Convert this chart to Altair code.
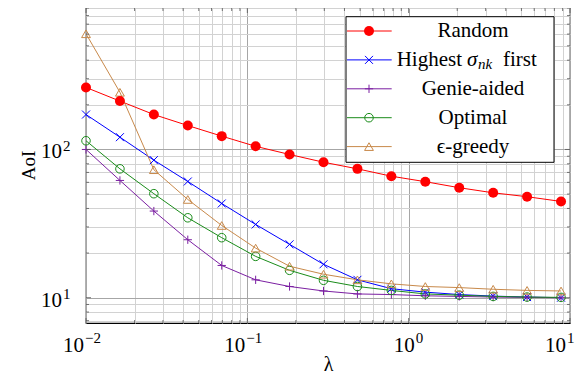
import altair as alt
import pandas as pd

# ---- data ----
lam = [0.01, 0.01623, 0.02634, 0.04275, 0.06938, 0.1126, 0.1827, 0.2966,
       0.4813, 0.7812, 1.268, 2.058, 3.34, 5.42, 8.80]
random_aoi = [262, 212, 172, 145, 123, 105, 92.5, 82, 74, 66, 60.6, 55.2, 51, 48, 44.6]
highest_aoi = [172, 121, 84.7, 60.8, 43.2, 31.2, 22.9, 16.8, 13.2, 11.5, 10.9, 10.5, 10.25, 10.1, 10.0]
genie_aoi = [100, 61.8, 38.4, 24.6, 16.5, 13.2, 11.9, 11.1, 10.6, 10.5, 10.3, 10.2, 10.1, 10.05, 10.0]
optimal_aoi = [114.5, 74, 50.3, 34.6, 25.4, 19.0, 15.3, 13.1, 11.9, 11.2, 10.6, 10.4, 10.2, 10.1, 10.05]
egreedy_aoi = [603, 243, 73, 46, 30.7, 21.6, 16.3, 14.4, 13.2, 12.4, 11.9, 11.7, 11.4, 11.2, 11.1]

names = ["Random", "Highest σₙₖ first", "Genie-aided", "Optimal", "ϵ-greedy"]
colors = ["#ff0000", "#0000ff", "#7b1fa2", "#1a8c1a", "#c8894a"]

x_major = [0.01, 0.1, 1, 10]
x_exps = ["−2", "−1", "0", "1"]
y_major = [10, 100]
y_exps = ["1", "2"]
mult = [2, 3, 4, 5, 6, 7, 8, 9]
x_minor = [round(m * d, 6) for d in [0.01, 0.1, 1] for m in mult]
y_minor = [7, 8, 9] + [round(m * d, 6) for d in [10, 100] for m in mult]

W, H = 484, 315
FONT = "Liberation Serif"

series = [random_aoi, highest_aoi, genie_aoi, optimal_aoi, egreedy_aoi]
rows = []
for n, vals in zip(names, series):
    for l, v in zip(lam, vals):
        rows.append({"series": n, "lam": l, "aoi": v})
df = pd.DataFrame(rows)


def grid_color(vals):
    return {"condition": {"test": f"indexof({vals}, datum.value) >= 0", "value": "#a6a6a6"},
            "value": "#d2d2d2"}


xscale = alt.Scale(type="log", domain=[0.01, 10], nice=False)
yscale = alt.Scale(type="log", domain=[6.75, 900], nice=False)

xaxis = alt.Axis(values=x_major + x_minor, labels=False,
                 grid=True, gridColor=grid_color(x_major), gridWidth=1,
                 ticks=False, tickSize=0, domain=False,
                 title="λ", titleFontSize=20, titleFontWeight="normal", titleFont=FONT,
                 titleBaseline="top", titleY=31, titleColor="black")
yaxis = alt.Axis(values=y_major + y_minor, labels=False,
                 grid=True, gridColor=grid_color(y_major), gridWidth=1,
                 ticks=False, tickSize=0, domain=False,
                 title="AoI", titleFontSize=19, titleFontWeight="normal", titleFont=FONT,
                 titleAngle=270, titleBaseline="alphabetic", titleX=-52, titleY=157,
                 titleColor="black")

color = alt.Color("series:N", scale=alt.Scale(domain=names, range=colors), legend=None)
other = names[1:]
shape_scale = alt.Scale(domain=other, range=["M-1,-1L1,1M-1,1L1,-1", "M-1,0L1,0M0,-1L0,1",
                                             "circle", "triangle-up"])
size_scale = alt.Scale(domain=other, range=[64, 78, 86, 86])

base = alt.Chart(df)
lines = base.mark_line(strokeWidth=1, clip=True).encode(
    x=alt.X("lam:Q", scale=xscale, axis=xaxis),
    y=alt.Y("aoi:Q", scale=yscale, axis=yaxis),
    color=color, detail="series:N", order="lam:Q")
pts_filled = base.transform_filter(alt.datum.series == names[0]).mark_point(
    shape="circle", filled=True, size=100, opacity=1).encode(
    x="lam:Q", y="aoi:Q", color=color)
pts_open = base.transform_filter(alt.datum.series != names[0]).mark_point(
    filled=False, strokeWidth=1, opacity=1).encode(
    x="lam:Q", y="aoi:Q", color=color,
    shape=alt.Shape("series:N", scale=shape_scale, legend=None),
    size=alt.Size("series:N", scale=size_scale, legend=None))

# tick labels as 10 with a raised exponent
xl = pd.DataFrame({"v": x_major, "e": x_exps})
yl = pd.DataFrame({"v": y_major, "e": y_exps})
label_layers = []
groups = [
    ("indexof(datum.e, '−') >= 0", (-2, -1)),
    (f"indexof(datum.e, '−') < 0 && datum.v < {max(x_major)}", (6, 7)),
    (f"datum.v == {max(x_major)}", (-4, -3)),
]
for test, (bdx, edx) in groups:
    d = alt.Chart(xl).transform_filter(test)
    label_layers.append(d.mark_text(fontSize=21, font=FONT, align="right", baseline="alphabetic",
                                    dx=bdx, color="black").encode(
        x=alt.X("v:Q", scale=xscale), y=alt.value(H + 28.7), text=alt.value("10")))
    label_layers.append(d.mark_text(fontSize=15, font=FONT, align="left", baseline="alphabetic",
                                    dx=edx, color="black").encode(
        x=alt.X("v:Q", scale=xscale), y=alt.value(H + 19.5), text="e:N"))
ylc = alt.Chart(yl)
label_layers.append(ylc.mark_text(fontSize=21, font=FONT, align="right", baseline="alphabetic",
                                  dy=9, color="black").encode(
    y=alt.Y("v:Q", scale=yscale), x=alt.value(-24), text=alt.value("10")))
label_layers.append(ylc.mark_text(fontSize=15, font=FONT, align="left", baseline="alphabetic",
                                  dy=1.5, color="black").encode(
    y=alt.Y("v:Q", scale=yscale), x=alt.value(-23), text="e:N"))

# inside tick marks on the four sides
xt = pd.DataFrame({"v": x_major + x_minor, "major": [1] * len(x_major) + [0] * len(x_minor)})
yt = pd.DataFrame({"v": y_major + y_minor, "major": [1] * len(y_major) + [0] * len(y_minor)})
tick_layers = []
for side in ["bottom", "top"]:
    if side == "bottom":
        calc = dict(p0=f"{H}", p1=f"{H} - (datum.major ? 5 : 3)")
    else:
        calc = dict(p0="0", p1="datum.major ? 5 : 3")
    tick_layers.append(alt.Chart(xt).transform_calculate(**calc).mark_rule(
        color="#555555", strokeWidth=0.8).encode(
        x=alt.X("v:Q", scale=xscale), y=alt.Y("p0:Q", scale=None), y2="p1:Q"))
for side in ["left", "right"]:
    if side == "left":
        calc = dict(p0="0", p1="datum.major ? 5 : 3")
    else:
        calc = dict(p0=f"{W}", p1=f"{W} - (datum.major ? 5 : 3)")
    tick_layers.append(alt.Chart(yt).transform_calculate(**calc).mark_rule(
        color="#555555", strokeWidth=0.8).encode(
        y=alt.Y("v:Q", scale=yscale), x=alt.X("p0:Q", scale=None), x2="p1:Q"))

# legend
leg = pd.DataFrame({"series": names, "idx": list(range(len(names)))})
leg_base = alt.Chart(leg).transform_calculate(ly="23 + datum.idx * 28.9")
box = alt.Chart(alt.Data(values=[{}])).mark_rect(
    fill="white", stroke="black", strokeWidth=1).encode(
    x=alt.value(260), x2=alt.value(468), y=alt.value(8.7), y2=alt.value(154.3))
leg_lines = leg_base.mark_rule(strokeWidth=1).encode(
    x=alt.value(261), x2=alt.value(305.7), y=alt.Y("ly:Q", scale=None), color=color)
leg_filled = leg_base.transform_filter(alt.datum.series == names[0]).mark_point(
    shape="circle", filled=True, size=100, opacity=1).encode(
    x=alt.value(283), y=alt.Y("ly:Q", scale=None), color=color)
leg_open = leg_base.transform_filter(alt.datum.series != names[0]).mark_point(
    filled=False, strokeWidth=1, opacity=1).encode(
    x=alt.value(283), y=alt.Y("ly:Q", scale=None), color=color,
    shape=alt.Shape("series:N", scale=shape_scale, legend=None),
    size=alt.Size("series:N", scale=size_scale, legend=None))
leg_text = leg_base.transform_filter(alt.datum.idx != 1).mark_text(
    fontSize=21, font=FONT, align="center", baseline="middle", color="black").encode(
    x=alt.value(387), y=alt.Y("ly:Q", scale=None), text="series:N")
# "Highest σ_nk first" with an italic sigma and a lowered subscript
hb = leg_base.transform_filter(alt.datum.idx == 1)
leg_h = [
    hb.mark_text(fontSize=21, font=FONT, align="right", baseline="middle", color="black").encode(
        x=alt.value(376), y=alt.Y("ly:Q", scale=None), text=alt.value("Highest")),
    hb.mark_text(fontSize=21, font=FONT, fontStyle="italic", align="left", baseline="middle",
                 color="black").encode(
        x=alt.value(381), y=alt.Y("ly:Q", scale=None), text=alt.value("σ")),
    hb.mark_text(fontSize=15, font=FONT, fontStyle="italic", align="left", baseline="middle",
                 dy=4, color="black").encode(
        x=alt.value(392), y=alt.Y("ly:Q", scale=None), text=alt.value("nk")),
    hb.mark_text(fontSize=21, font=FONT, align="left", baseline="middle", color="black").encode(
        x=alt.value(417), y=alt.Y("ly:Q", scale=None), text=alt.value("first")),
]

chart = alt.layer(lines, pts_open, pts_filled, *tick_layers, *label_layers, box, leg_lines,
                  leg_open, leg_filled, leg_text, *leg_h).properties(
    width=W, height=H,
    autosize=alt.AutoSizeParams(type="none"),
    padding={"left": 78, "top": 0, "right": 5, "bottom": 53},
).configure(font=FONT).configure_view(stroke="black", strokeWidth=1.2)

chart.save("out.html", embed_options={"renderer": "svg", "actions": False})
